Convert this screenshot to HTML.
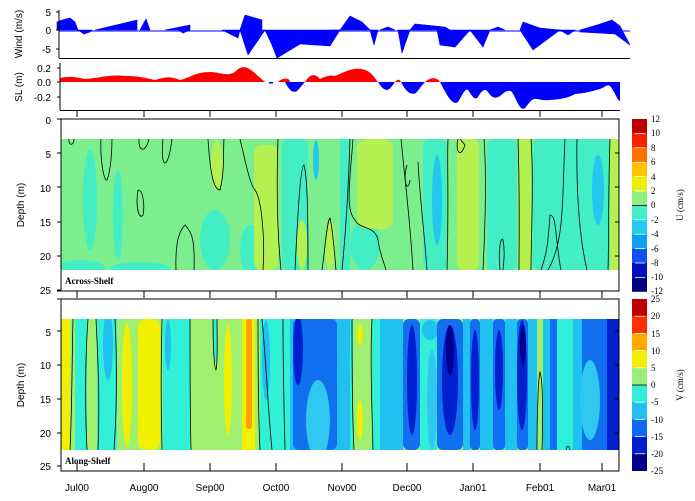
<!DOCTYPE html>
<html><head><meta charset="utf-8"><style>
html,body{margin:0;padding:0;background:#fff;}
svg{display:block;}
.a{font-family:"Liberation Sans",Arial,sans-serif;font-size:10px;fill:#000;}
.s{font-family:"Liberation Serif",serif;font-size:9px;fill:#000;}
</style></head><body>
<svg width="695" height="501" viewBox="0 0 695 501" xmlns="http://www.w3.org/2000/svg">
<defs>
<clipPath id="cu"><rect x="61" y="139" width="558" height="131"/></clipPath>
<clipPath id="cv"><rect x="61" y="319" width="558" height="131"/></clipPath>
</defs>
<!-- WIND -->
<g fill="#0000ff" stroke="#0000ff" stroke-width="0.6">
<polygon points="57,22 62,20 70,18 75,22 78,30 57,30"/>
<polygon points="78,30 84,34 90,32 92,30"/>
<polygon points="95,30 137,20 137,30"/>
<polygon points="140,30 146,19 150,30"/>
<polygon points="165,30 190,25 190,30 183,33 178,30"/>
<polygon points="222,30 240,30 238,38"/>
<polygon points="240,30 245,15 262,20 262,30"/>
<polygon points="240,30 265,30 248,55"/>
<polygon points="265,30 340,30 330,46 300,44 277,58 272,45"/>
<polygon points="330,30 340,30 333,38"/>
<polygon points="340,30 350,16 362,22 370,30"/>
<polygon points="370,30 378,30 374,45"/>
<polygon points="380,30 388,27 395,30"/>
<polygon points="398,30 410,30 402,53"/>
<polygon points="410,30 415,24 445,27 450,30"/>
<polygon points="437,30 470,30 455,47 440,45"/>
<polygon points="470,30 490,30 483,47"/>
<polygon points="490,30 498,27 505,30"/>
<polygon points="520,30 523,22 540,28 560,30 533,50"/>
<polygon points="560,30 575,30 568,35"/>
<polygon points="580,30 600,24 612,20 620,26 630,45 615,34 580,32"/>
</g>
<line x1="59" y1="31" x2="630" y2="31" stroke="#0000ff" stroke-width="1"/>
<line x1="59" y1="10" x2="59" y2="58" stroke="#000"/>
<line x1="59" y1="58.5" x2="630" y2="58.5" stroke="#000"/>
<line x1="56" y1="12" x2="59" y2="12" stroke="#000"/><line x1="56" y1="30" x2="59" y2="30" stroke="#000"/><line x1="56" y1="49" x2="59" y2="49" stroke="#000"/>
<text class="a" x="51" y="16" text-anchor="end">5</text>
<text class="a" x="51" y="34" text-anchor="end">0</text>
<text class="a" x="51" y="53" text-anchor="end">-5</text>
<text class="a" transform="translate(22,34) rotate(-90)" text-anchor="middle" font-size="9">Wind (m/s)</text>
<!-- SL -->
<path fill="#ff0000" d="M60,82 L60,78 C70,76 75,77 85,79 C100,78 110,74 125,76 C140,76 145,78 155,80 C165,77 170,76 180,80 C190,78 195,72 210,72 C220,72 230,78 237,70 C243,64 250,68 258,76 L265,82 Z"/>
<path fill="#ff0000" d="M278,82 C283,77 290,78 290,82 Z M305,82 C310,74 315,73 320,79 C326,76 330,75 335,76 C345,72 355,66 365,70 C372,72 376,80 378,82 Z M395,82 C397,79 400,79 401,82 Z M425,82 C430,77 437,77 440,82 Z"/>
<path fill="#0000ff" d="M269,82 L273,82 L273,83.5 L269,83.5 Z M285,82 C288,88 292,94 297,91 C300,88 303,84 305,82 Z M378,82 C383,90 387,93 392,86 L395,82 Z M401,82 C405,90 410,96 416,93 C420,88 423,84 425,82 Z M440,82 C447,95 452,106 458,102 C462,96 465,88 468,90 C472,96 475,101 478,97 C482,90 485,88 488,92 C492,98 495,99 500,96 C505,92 508,89 512,92 C517,100 520,112 525,108 C530,102 532,98 537,99 C545,101 552,100 560,99 C565,98 570,97 575,94 C585,93 590,92 600,89 C605,87 607,84 610,86 C615,92 617,100 620,101 L620,82 Z"/>
<line x1="60" y1="63" x2="60" y2="110" stroke="#000"/>
<line x1="60" y1="110.5" x2="620" y2="110.5" stroke="#000"/>
<line x1="57" y1="68" x2="60" y2="68" stroke="#000"/><line x1="57" y1="82" x2="60" y2="82" stroke="#000"/><line x1="57" y1="97" x2="60" y2="97" stroke="#000"/>
<text class="a" x="51" y="72" text-anchor="end">0.2</text>
<text class="a" x="51" y="86" text-anchor="end">0.0</text>
<text class="a" x="51" y="101" text-anchor="end">-0.2</text>
<text class="a" transform="translate(22,87) rotate(-90)" text-anchor="middle" font-size="9">SL (m)</text>
<g stroke="#000"><line x1="77" y1="111" x2="77" y2="117"/><line x1="144" y1="111" x2="144" y2="117"/><line x1="210" y1="111" x2="210" y2="117"/><line x1="276" y1="111" x2="276" y2="117"/><line x1="342" y1="111" x2="342" y2="117"/><line x1="407" y1="111" x2="407" y2="117"/><line x1="473" y1="111" x2="473" y2="117"/><line x1="540" y1="111" x2="540" y2="117"/><line x1="602" y1="111" x2="602" y2="117"/></g>

<!-- U FIELD -->
<g clip-path="url(#cu)">
<rect x="61" y="139" width="558" height="131" fill="#7cee8e"/>
<g fill="#44eec4">
<ellipse cx="90" cy="200" rx="7" ry="50"/><ellipse cx="118" cy="215" rx="5" ry="45"/>
<ellipse cx="80" cy="268" rx="25" ry="8"/><ellipse cx="140" cy="268" rx="30" ry="6"/><ellipse cx="215" cy="240" rx="15" ry="30"/>
<ellipse cx="250" cy="250" rx="10" ry="25"/><rect x="282" y="139" width="26" height="131" rx="6"/>
<rect x="340" y="139" width="10" height="131"/><ellipse cx="365" cy="245" rx="15" ry="25"/>
<rect x="423" y="139" width="24" height="131" rx="6"/><rect x="487" y="139" width="30" height="131" rx="6"/>
<rect x="533" y="139" width="77" height="131" rx="6"/>
</g>
<g fill="#b4f050">
<ellipse cx="217" cy="165" rx="6" ry="25"/><rect x="254" y="145" width="24" height="125" rx="8"/>
<ellipse cx="302" cy="245" rx="5" ry="25"/><ellipse cx="330" cy="245" rx="5" ry="25"/>
<rect x="357" y="139" width="36" height="90" rx="10"/><rect x="457" y="139" width="22" height="131" rx="6"/>
<rect x="519" y="139" width="12" height="131" rx="4"/><rect x="610" y="139" width="9" height="131"/>
</g>
<g fill="#22c8f0"><ellipse cx="316" cy="160" rx="3" ry="20"/><ellipse cx="437" cy="200" rx="5" ry="45"/><ellipse cx="598" cy="190" rx="6" ry="35"/></g>
<g fill="none" stroke="#000" stroke-width="0.8">
<path d="M69,139 C68,146 74,146 74,139"/><path d="M101,139 C100,160 104,182 107,180 C111,170 112,150 112,139"/>
<path d="M139,139 C138,150 145,155 149,139"/><path d="M163,139 C160,170 168,172 172,139"/>
<path d="M138,190 C135,210 140,220 143,215 C145,205 143,190 138,190"/>
<path d="M176,270 C175,240 180,230 185,225 C192,232 195,240 194,270"/>
<path d="M208,139 C210,170 213,190 220,190 C225,170 223,150 224,139"/>
<path d="M240,139 C245,160 250,185 255,190 C262,200 265,240 263,270"/>
<path d="M278,139 C276,200 278,240 281,270"/><path d="M295,270 C297,230 300,165 304,165 C308,180 308,230 308,270"/>
<path d="M322,270 C325,250 327,220 330,218 C333,230 335,260 336,270"/><path d="M342,270 C345,240 348,200 350,139"/>
<path d="M353,139 C350,180 345,210 355,220 C360,230 375,225 378,240 C380,255 385,265 386,270"/>
<path d="M401,139 C405,180 410,220 413,270"/><path d="M407,165 C402,180 408,195 410,180"/><path d="M418,162 C420,200 425,240 427,270"/>
<path d="M447,270 C449,200 447,160 448,139"/><path d="M458,139 C455,150 460,160 465,145 L460,139"/>
<path d="M484,139 C487,180 485,230 483,270"/><path d="M500,270 C498,250 501,235 503,240 C505,250 504,260 503,270"/>
<path d="M518,139 C520,200 519,240 519,270"/><path d="M531,139 C534,180 531,240 531,270"/>
<path d="M565,139 C562,200 565,240 548,270"/><path d="M561,270 C555,240 557,215 550,215 C548,240 548,250 541,270"/>
<path d="M577,139 C576,200 580,240 587,270"/><path d="M610,139 C608,200 609,240 608,270"/>
</g>
</g>
<rect x="61" y="119" width="558" height="172" fill="none" stroke="#000"/>
<g stroke="#000"><line x1="619" y1="153" x2="615" y2="153"/><line x1="619" y1="187" x2="615" y2="187"/><line x1="619" y1="222" x2="615" y2="222"/><line x1="619" y1="256" x2="615" y2="256"/>
<line x1="57" y1="119" x2="61" y2="119"/><line x1="57" y1="153" x2="61" y2="153"/><line x1="57" y1="187" x2="61" y2="187"/><line x1="57" y1="222" x2="61" y2="222"/><line x1="57" y1="256" x2="61" y2="256"/><line x1="57" y1="290" x2="61" y2="290"/></g>
<g class="a" text-anchor="end"><text x="51" y="124">0</text><text x="51" y="158">5</text><text x="51" y="192">10</text><text x="51" y="226">15</text><text x="51" y="260">20</text><text x="51" y="294">25</text></g>
<text class="a" transform="translate(24,205) rotate(-90)" text-anchor="middle" font-size="9">Depth (m)</text>
<text class="s" x="65" y="284" font-weight="bold">Across-Shelf</text>
<g stroke="#000"><line x1="57" y1="291" x2="619" y2="291"/><line x1="77" y1="291" x2="77" y2="298"/><line x1="144" y1="291" x2="144" y2="298"/><line x1="210" y1="291" x2="210" y2="298"/><line x1="276" y1="291" x2="276" y2="298"/><line x1="342" y1="291" x2="342" y2="298"/><line x1="407" y1="291" x2="407" y2="298"/><line x1="473" y1="291" x2="473" y2="298"/><line x1="540" y1="291" x2="540" y2="298"/><line x1="602" y1="291" x2="602" y2="298"/></g>

<!-- V FIELD -->
<g clip-path="url(#cv)">
<rect x="61" y="319" width="558" height="131" fill="#a0f070"/>
<g fill="#f0f000"><rect x="62" y="319" width="8" height="131"/><ellipse cx="127" cy="385" rx="5" ry="62"/><rect x="138" y="319" width="22" height="131" rx="8"/><ellipse cx="228" cy="380" rx="4" ry="55"/><rect x="242" y="319" width="13" height="131"/><ellipse cx="360" cy="335" rx="3" ry="10"/><ellipse cx="360" cy="420" rx="3" ry="20"/></g>
<rect x="246" y="319" width="6" height="110" rx="3" fill="#ffa000"/>
<g fill="#30f0d8"><rect x="75" y="319" width="12" height="131"/><rect x="97" y="319" width="20" height="131"/><rect x="163" y="319" width="27" height="131"/><rect x="260" y="319" width="30" height="131"/><rect x="340" y="319" width="13" height="131"/><rect x="372" y="319" width="8" height="131"/><rect x="420" y="319" width="17" height="131"/><rect x="557" y="319" width="16" height="131"/><ellipse cx="215" cy="340" rx="2.5" ry="22"/></g>
<g fill="#20c0f0"><ellipse cx="108" cy="345" rx="5" ry="35"/><ellipse cx="168" cy="345" rx="3" ry="25"/><ellipse cx="266" cy="360" rx="4" ry="40"/><rect x="290" y="319" width="60" height="131"/><rect x="380" y="319" width="23" height="131"/><rect x="463" y="319" width="7" height="131"/><rect x="480" y="319" width="13" height="131"/><rect x="505" y="319" width="12" height="131"/><rect x="528" y="319" width="9" height="131"/><rect x="543" y="319" width="7" height="131"/><rect x="573" y="319" width="20" height="131"/><ellipse cx="430" cy="330" rx="8" ry="10"/></g>
<g fill="#1070f0"><rect x="293" y="319" width="44" height="131" rx="6"/><rect x="403" y="319" width="17" height="131" rx="6"/><rect x="437" y="319" width="26" height="131" rx="6"/><rect x="470" y="319" width="10" height="131" rx="4"/><rect x="493" y="319" width="12" height="131" rx="4"/><rect x="517" y="319" width="11" height="131" rx="4"/><rect x="550" y="319" width="7" height="131"/><rect x="582" y="319" width="37" height="131"/></g>
<g fill="#30c8f0"><ellipse cx="318" cy="420" rx="12" ry="40"/><ellipse cx="432" cy="400" rx="5" ry="50"/><ellipse cx="590" cy="400" rx="10" ry="40"/></g>
<g fill="#0020d0"><ellipse cx="298" cy="350" rx="5" ry="35"/><ellipse cx="412" cy="380" rx="5" ry="55"/><ellipse cx="450" cy="380" rx="8" ry="55"/><ellipse cx="475" cy="380" rx="4" ry="50"/><ellipse cx="499" cy="370" rx="4" ry="40"/><ellipse cx="522" cy="375" rx="5" ry="55"/><rect x="607" y="319" width="12" height="131"/></g>
<g fill="#000090"><ellipse cx="450" cy="350" rx="4" ry="25"/><ellipse cx="523" cy="345" rx="3" ry="20"/></g>
<g fill="none" stroke="#000" stroke-width="0.8">
<path d="M73,319 C72,360 72,410 70,450"/><path d="M88,319 C85,360 85,410 87,450"/><path d="M96,319 C98,360 100,400 98,450"/>
<path d="M115,319 C117,360 117,410 114,450"/><path d="M162,319 C161,360 161,410 162,450"/><path d="M190,319 C190,360 190,410 191,450"/>
<path d="M213,319 C213,340 214,370 216,370 C218,360 217,340 217,319"/>
<path d="M258,319 C258,360 258,410 260,450"/><path d="M262,319 C266,360 268,410 272,450"/><path d="M283,319 C283,360 284,410 285,450"/>
<path d="M352,319 C352,360 352,410 354,450"/><path d="M372,319 C370,360 372,410 373,450"/>
<path d="M537,450 C537,420 538,380 540,372 C543,380 543,420 542,450"/><path d="M566,450 C567,445 569,445 570,450"/>
</g>
</g>
<rect x="61" y="299" width="558" height="172" fill="none" stroke="#000"/>
<g stroke="#000"><line x1="619" y1="331" x2="615" y2="331"/><line x1="619" y1="365" x2="615" y2="365"/><line x1="619" y1="399" x2="615" y2="399"/><line x1="619" y1="433" x2="615" y2="433"/>
<line x1="57" y1="299" x2="61" y2="299"/><line x1="57" y1="331" x2="61" y2="331"/><line x1="57" y1="365" x2="61" y2="365"/><line x1="57" y1="399" x2="61" y2="399"/><line x1="57" y1="433" x2="61" y2="433"/><line x1="57" y1="466" x2="61" y2="466"/>
<line x1="77" y1="463" x2="77" y2="471"/><line x1="144" y1="463" x2="144" y2="471"/><line x1="210" y1="463" x2="210" y2="471"/><line x1="276" y1="463" x2="276" y2="471"/><line x1="342" y1="463" x2="342" y2="471"/><line x1="407" y1="463" x2="407" y2="471"/><line x1="473" y1="463" x2="473" y2="471"/><line x1="540" y1="463" x2="540" y2="471"/><line x1="602" y1="463" x2="602" y2="471"/></g>
<g class="a" text-anchor="end"><text x="51" y="336">5</text><text x="51" y="369">10</text><text x="51" y="403">15</text><text x="51" y="437">20</text><text x="51" y="470">25</text></g>
<text class="a" transform="translate(24,385) rotate(-90)" text-anchor="middle" font-size="9">Depth (m)</text>
<text class="s" x="65" y="464" font-weight="bold">Along-Shelf</text>
<g class="a" text-anchor="middle" font-size="9"><text x="77" y="491">Jul00</text><text x="144" y="491">Aug00</text><text x="210" y="491">Sep00</text><text x="276" y="491">Oct00</text><text x="342" y="491">Nov00</text><text x="407" y="491">Dec00</text><text x="473" y="491">Jan01</text><text x="540" y="491">Feb01</text><text x="602" y="491">Mar01</text></g>

<!-- U COLORBAR -->
<g>
<rect x="632" y="119" width="15" height="14.4" fill="#c00000"/><rect x="632" y="133.4" width="15" height="14.4" fill="#ff2000"/><rect x="632" y="147.8" width="15" height="14.4" fill="#ff7000"/><rect x="632" y="162.2" width="15" height="14.4" fill="#ffc000"/><rect x="632" y="176.6" width="15" height="14.4" fill="#e8f000"/><rect x="632" y="191" width="15" height="14.4" fill="#90ee80"/><rect x="632" y="205.4" width="15" height="14.4" fill="#40eec8"/><rect x="632" y="219.8" width="15" height="14.4" fill="#20ccf0"/><rect x="632" y="234.2" width="15" height="14.4" fill="#10a0f0"/><rect x="632" y="248.6" width="15" height="14.4" fill="#1050f0"/><rect x="632" y="263" width="15" height="14.4" fill="#0010c0"/><rect x="632" y="277.4" width="15" height="14.4" fill="#000080"/>
<g stroke="#fff" stroke-width="0.8"><line x1="635" y1="133.4" x2="645" y2="133.4"/><line x1="635" y1="147.8" x2="645" y2="147.8"/><line x1="635" y1="162.2" x2="645" y2="162.2"/><line x1="635" y1="176.6" x2="645" y2="176.6"/><line x1="635" y1="191" x2="645" y2="191"/><line x1="635" y1="219.8" x2="645" y2="219.8"/><line x1="635" y1="234.2" x2="645" y2="234.2"/><line x1="635" y1="248.6" x2="645" y2="248.6"/><line x1="635" y1="263" x2="645" y2="263"/><line x1="635" y1="277.4" x2="645" y2="277.4"/></g>
<line x1="632" y1="205.4" x2="647" y2="205.4" stroke="#000" stroke-width="0.8"/>
<g class="s"><text x="651" y="122">12</text><text x="651" y="136">10</text><text x="651" y="151">8</text><text x="651" y="165">6</text><text x="651" y="180">4</text><text x="651" y="194">2</text><text x="651" y="208">0</text><text x="651" y="223">-2</text><text x="651" y="237">-4</text><text x="651" y="252">-6</text><text x="651" y="266">-8</text><text x="651" y="280">-10</text><text x="651" y="294">-12</text></g>
<text class="s" transform="translate(683,205) rotate(-90)" text-anchor="middle">U (cm/s)</text>
</g>
<!-- V COLORBAR -->
<g>
<rect x="632" y="299" width="15" height="17.2" fill="#c00000"/><rect x="632" y="316.2" width="15" height="17.2" fill="#ff3000"/><rect x="632" y="333.4" width="15" height="17.2" fill="#ffa800"/><rect x="632" y="350.6" width="15" height="17.2" fill="#f0f000"/><rect x="632" y="367.8" width="15" height="17.2" fill="#98ee78"/><rect x="632" y="385" width="15" height="17.2" fill="#30eed8"/><rect x="632" y="402.2" width="15" height="17.2" fill="#20c0f0"/><rect x="632" y="419.4" width="15" height="17.2" fill="#1068f0"/><rect x="632" y="436.6" width="15" height="17.2" fill="#0020d0"/><rect x="632" y="453.8" width="15" height="17.2" fill="#000088"/>
<g stroke="#fff" stroke-width="0.8"><line x1="635" y1="316.2" x2="645" y2="316.2"/><line x1="635" y1="333.4" x2="645" y2="333.4"/><line x1="635" y1="350.6" x2="645" y2="350.6"/><line x1="635" y1="367.8" x2="645" y2="367.8"/><line x1="635" y1="402.2" x2="645" y2="402.2"/><line x1="635" y1="419.4" x2="645" y2="419.4"/><line x1="635" y1="436.6" x2="645" y2="436.6"/><line x1="635" y1="453.8" x2="645" y2="453.8"/></g>
<line x1="632" y1="385" x2="647" y2="385" stroke="#000" stroke-width="0.8"/>
<g class="s"><text x="651" y="302">25</text><text x="651" y="319">20</text><text x="651" y="337">15</text><text x="651" y="354">10</text><text x="651" y="371">5</text><text x="651" y="388">0</text><text x="651" y="405">-5</text><text x="651" y="423">-10</text><text x="651" y="440">-15</text><text x="651" y="457">-20</text><text x="651" y="474">-25</text></g>
<text class="s" transform="translate(683,385) rotate(-90)" text-anchor="middle">V (cm/s)</text>
</g>
</svg>
</body></html>
